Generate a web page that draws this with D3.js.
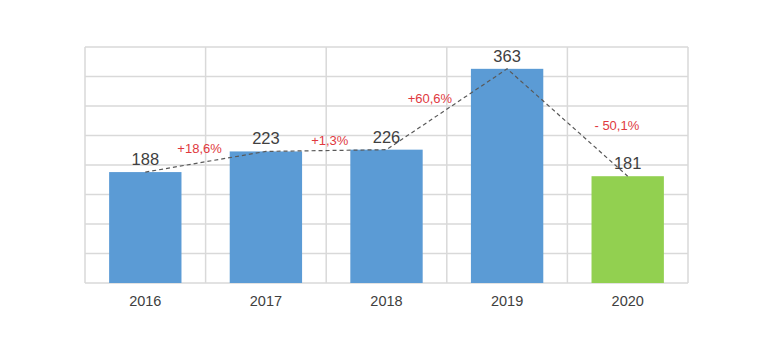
<!DOCTYPE html>
<html><head><meta charset="utf-8">
<script src="https://cdn.jsdelivr.net/npm/d3@7"></script>
<style>body{margin:0;background:#fff}svg{display:block}</style>
</head><body>
<svg id="c" width="774" height="352"></svg>
<script>
const years = ["2016","2017","2018","2019","2020"];
const values = [188, 223, 226, 363, 181];
const barColors = ["#5b9bd5","#5b9bd5","#5b9bd5","#5b9bd5","#92d050"];
const changeLabels = ["+18,6%","+1,3%","+60,6%","- 50,1%"];
const yTicks = [0,50,100,150,200,250,300,350,400];

// annotation anchors (index units, value units)
const changeAnchorX = [0.45, 1.53, 2.36, 3.91];
const changeAnchorY = [220, 234, 305, 259];

const m = {l:85, r:688, t:47, b:283};
const svg = d3.select("#c");
const x = d3.scaleBand().domain(years).range([m.l, m.r]).paddingInner(0.4).paddingOuter(0.2);
const xi = d3.scaleLinear().domain([0, 4]).range([x(years[0]) + x.bandwidth()/2, x(years[4]) + x.bandwidth()/2]);
const y = d3.scaleLinear().domain([0, 400]).range([m.b, m.t]);
const font = "'Liberation Sans', Arial, sans-serif";

// grid
const g = svg.append("g");
g.selectAll("line.h").data(yTicks).join("line")
  .attr("x1", m.l).attr("x2", m.r).attr("y1", d=>y(d)).attr("y2", d=>y(d))
  .attr("stroke", "#d9d9d9").attr("stroke-width", 1.5);
const step = (m.r - m.l) / years.length;
g.selectAll("line.v").data(d3.range(years.length + 1)).join("line")
  .attr("x1", i=>m.l + i*step).attr("x2", i=>m.l + i*step).attr("y1", m.t).attr("y2", m.b)
  .attr("stroke", "#d9d9d9").attr("stroke-width", 1.5);

// bars
svg.selectAll("rect.bar").data(values).join("rect")
  .attr("x", (d,i)=>x(years[i])).attr("width", x.bandwidth())
  .attr("y", d=>y(d)).attr("height", d=>y(0)-y(d))
  .attr("fill", (d,i)=>barColors[i]);

// dashed line
svg.append("path").datum(values)
  .attr("d", d3.line().x((d,i)=>xi(i)).y(d=>y(d)))
  .attr("fill","none").attr("stroke","#595959").attr("stroke-width",1.2).attr("stroke-dasharray","4,3");

// value labels
svg.selectAll("text.val").data(values).join("text")
  .attr("x", (d,i)=>xi(i)).attr("y", d=>y(d)-7)
  .attr("text-anchor","middle").attr("font-family",font).attr("font-size",16.5)
  .attr("fill","#404040").text(d=>d);

// change labels
svg.selectAll("text.chg").data(changeLabels).join("text")
  .attr("x", (d,i)=>xi(changeAnchorX[i])).attr("y", (d,i)=>y(changeAnchorY[i]))
  .attr("text-anchor","middle").attr("font-family",font).attr("font-size",13)
  .attr("fill","#e0393e").text(d=>d);

// x axis labels
svg.selectAll("text.yr").data(years).join("text")
  .attr("x", d=>x(d)+x.bandwidth()/2).attr("y", m.b + 23)
  .attr("text-anchor","middle").attr("font-family",font).attr("font-size",14.5)
  .attr("fill","#404040").text(d=>d);
</script>
</body></html>
